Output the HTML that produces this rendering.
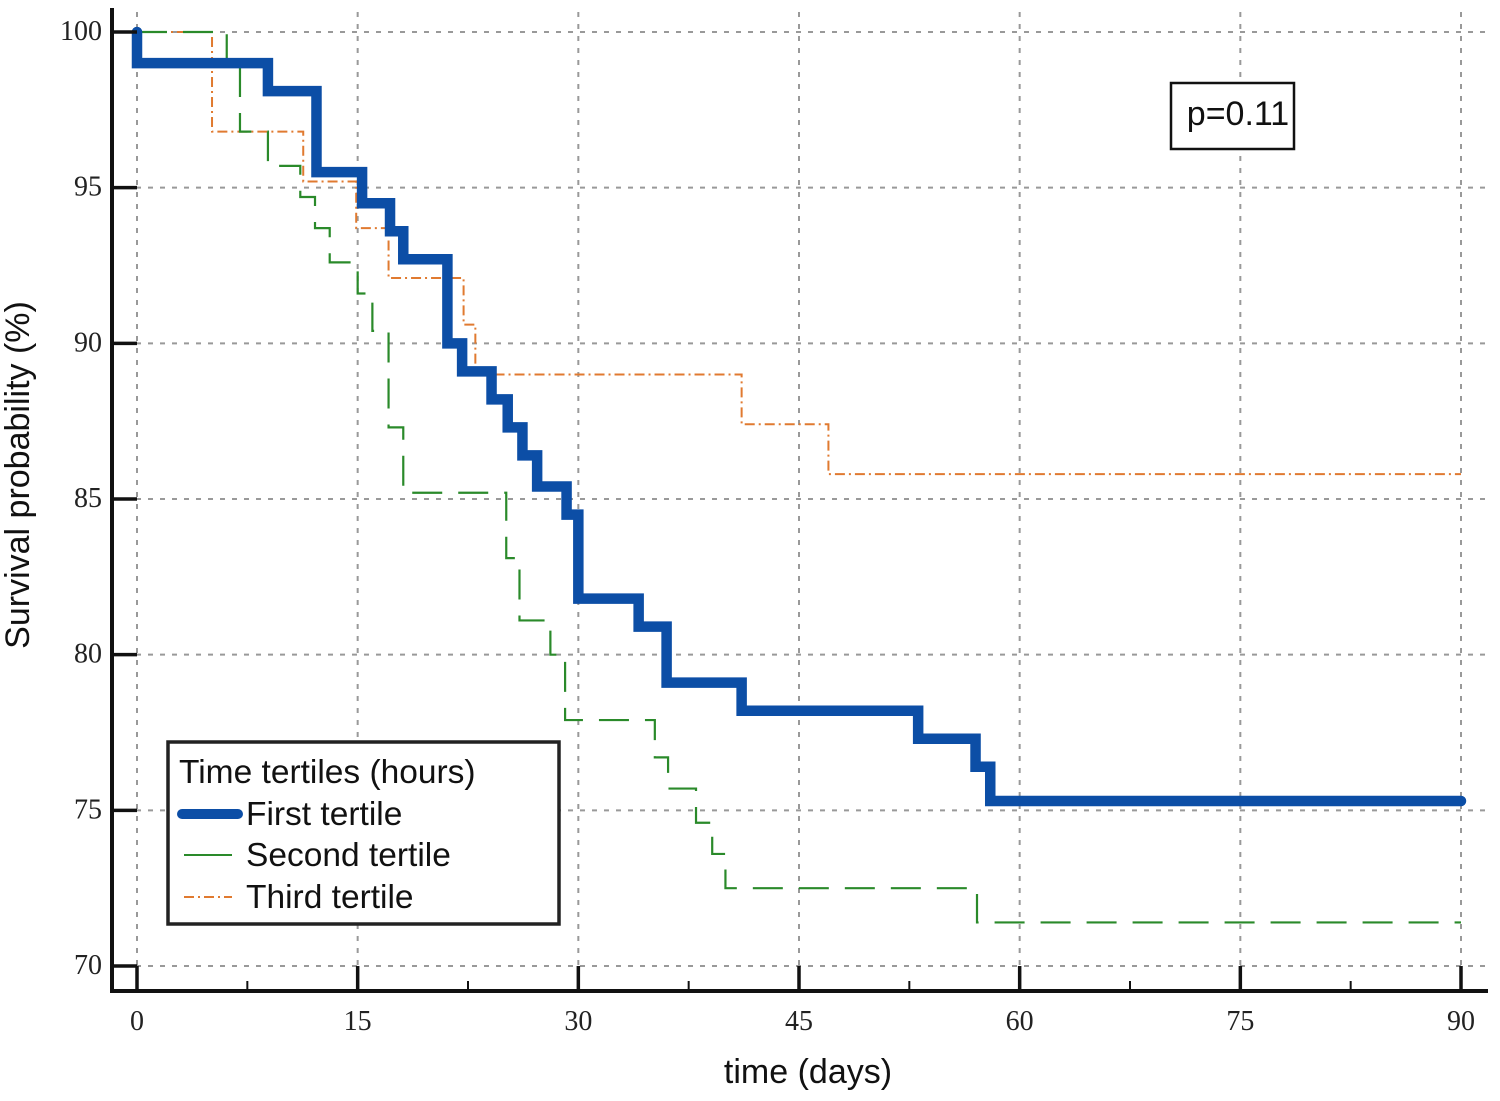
<!DOCTYPE html>
<html><head><meta charset="utf-8"><style>
body{margin:0;background:#fff;}
svg text{font-family:"Liberation Sans",sans-serif;}
.tick{font-family:"Liberation Serif",serif;font-size:28px;fill:#222;}
</style></head><body>
<svg id="chart" width="1500" height="1096" xmlns="http://www.w3.org/2000/svg">
<g id="grid"></g>
<g id="series"></g>
<g id="axes"></g>
<text x="18" y="475" transform="rotate(-90 18 475)" text-anchor="middle" dominant-baseline="central" font-size="34" fill="#111">Survival probability (%)</text>
<text x="808" y="1083" text-anchor="middle" font-size="34" fill="#111">time (days)</text>
<g>
<rect x="1171" y="83" width="123" height="66" fill="#fff" stroke="#111" stroke-width="2.5"/>
<text x="1238" y="125" text-anchor="middle" font-size="34" fill="#111">p=0.11</text>
</g>
<g>
<rect x="168" y="742" width="391" height="182" fill="#fff" stroke="#222" stroke-width="3.5"/>
<text x="179" y="783" font-size="33.5" fill="#111">Time tertiles (hours)</text>
<line x1="182" y1="814" x2="238" y2="814" stroke="#0c4ea6" stroke-width="10" stroke-linecap="round"/>
<text x="246" y="825" font-size="33.5" fill="#111">First tertile</text>
<line x1="184" y1="855" x2="232" y2="855" stroke="#2a8a2a" stroke-width="2"/>
<text x="246" y="866" font-size="33.5" fill="#111">Second tertile</text>
<line x1="184" y1="897" x2="232" y2="897" stroke="#e07a30" stroke-width="2" stroke-dasharray="10,4,2,4"/>
<text x="246" y="908" font-size="33.5" fill="#111">Third tertile</text>
</g>
</svg>
<script>
const xTicks=[0,15,30,45,60,75,90];
const yTicks=[70,75,80,85,90,95,100];
const firstT=[0,0,8.9,12.2,15.3,17.2,18.1,21.1,22.1,24.1,25.2,26.2,27.2,29.2,30.0,34.1,36.0,41.1,53.1,57.0,58.0,90];
const firstV=[100,99.0,98.1,95.5,94.5,93.6,92.7,90.0,89.1,88.2,87.3,86.4,85.4,84.5,81.8,80.9,79.1,78.2,77.3,76.4,75.3,75.3];
const secondT=[0,6.1,7.0,8.9,11.1,12.1,13.1,15.0,16.0,17.1,18.1,25.1,26.0,28.1,29.1,35.2,36.1,38.0,39.1,40.0,57.1,90];
const secondV=[100,99.0,96.8,95.7,94.7,93.7,92.6,91.6,90.4,87.3,85.2,83.1,81.1,80.0,77.9,76.7,75.7,74.6,73.6,72.5,71.4,71.4];
const thirdT=[0,5.1,11.3,14.9,17.1,22.2,23.0,41.1,47.0,90];
const thirdV=[100,96.8,95.2,93.7,92.1,90.6,89.0,87.4,85.8,85.8];
const NS='http://www.w3.org/2000/svg';
const X=d=>137+d*(1461-137)/90;
const Y=v=>966-(v-70)*(966-32)/30;
function mk(tag,attrs,parent){const e=document.createElementNS(NS,tag);for(const k in attrs)e.setAttribute(k,attrs[k]);parent.appendChild(e);return e;}
const grid=document.getElementById('grid'),axes=document.getElementById('axes'),series=document.getElementById('series');
xTicks.forEach(t=>{
 const g=mk('line',{x1:X(t),x2:X(t),y1:12,y2:990,stroke:'#999','stroke-width':2,'stroke-dasharray':'5,7'},grid);
 
 
 const tk=mk('line',{x1:X(t),x2:X(t),y1:990,y2:966,stroke:'#111','stroke-width':3.5},axes);
 
 
 const lb=mk('text',{x:X(t),y:1030,'text-anchor':'middle',class:'tick'},axes);
 lb.textContent=t;
 
 
 if(t<90){const m=mk('line',{x1:X(t+7.5),x2:X(t+7.5),y1:990,y2:981,stroke:'#111','stroke-width':2},axes);
 
 }
});
yTicks.forEach(v=>{
 const g=mk('line',{x1:112,x2:1485,y1:Y(v),y2:Y(v),stroke:'#999','stroke-width':2,'stroke-dasharray':'5,7'},grid);
 
 
 const tk=mk('line',{x1:112,x2:137,y1:Y(v),y2:Y(v),stroke:'#111','stroke-width':3.5},axes);
 
 
 const lb=mk('text',{x:102,y:Y(v)+8,'text-anchor':'end',class:'tick'},axes);
 lb.textContent=v;
 
 
});
const ax=mk('path',{d:'M112 8 V991 H1488',fill:'none',stroke:'#111','stroke-width':4},axes);


function stepPath(T,V){let d='M'+X(T[0])+' '+Y(V[0]);for(let i=1;i<T.length;i++){d+=' H'+X(T[i])+' V'+Y(V[i]);}return d;}
const s3=mk('path',{d:stepPath(thirdT,thirdV),fill:'none',stroke:'#e07a30','stroke-width':2,'stroke-dasharray':'10,4,2,4'},series);


const s2=mk('path',{d:stepPath(secondT,secondV),fill:'none',stroke:'#2a8a2a','stroke-width':2.2,'stroke-dasharray':'30,16'},series);


const s1=mk('path',{d:stepPath(firstT,firstV),fill:'none',stroke:'#0c4ea6','stroke-width':10.5,'stroke-linejoin':'miter','stroke-linecap':'round'},series);


</script>
</body></html>
